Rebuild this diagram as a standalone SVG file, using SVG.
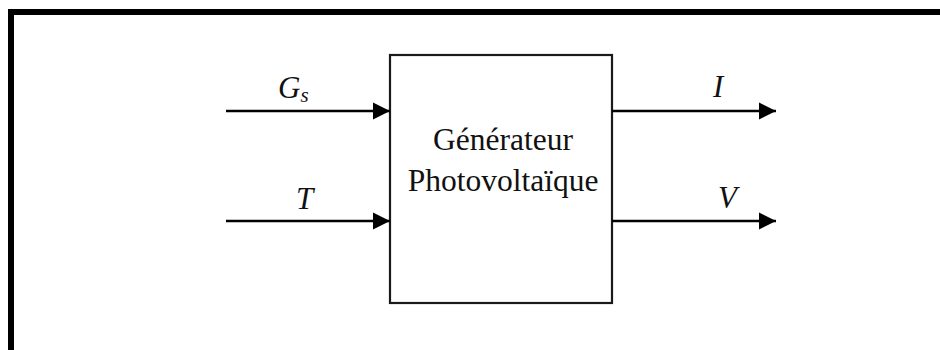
<svg xmlns="http://www.w3.org/2000/svg" width="940" height="350" viewBox="0 0 940 350">
<defs>
<style>
.frame{fill:none;stroke:#000;stroke-width:6}
.box{fill:#fff;stroke:#1a1a1a;stroke-width:2.2}
.line{fill:none;stroke:#000;stroke-width:2.5}
.txt{font-family:"Liberation Serif","Times New Roman",serif;font-size:31.5px;fill:#111;text-anchor:middle}
.lbl{font-family:"Liberation Serif","Times New Roman",serif;font-style:italic;font-size:31px;fill:#111}
</style>
<marker id="arr" markerUnits="userSpaceOnUse" markerWidth="18" markerHeight="18" refX="17" refY="9" orient="auto">
<polygon points="0,0.5 17,9 0,17.5" fill="#000"/>
</marker>
</defs>
<rect width="940" height="350" fill="#fff"/>
<rect class="frame" x="11" y="12" width="960" height="360"/>
<g id="generator">
<rect class="box" x="390" y="55" width="222" height="248"/>
<text class="txt" x="503" y="150">Générateur</text>
<text class="txt" x="503" y="191">Photovoltaïque</text>
</g>
<g id="connectors">
<line class="line" x1="226" y1="111" x2="390" y2="111" marker-end="url(#arr)"/>
<line class="line" x1="226" y1="221" x2="390" y2="221" marker-end="url(#arr)"/>
<line class="line" x1="612" y1="111" x2="776" y2="111" marker-end="url(#arr)"/>
<line class="line" x1="612" y1="221" x2="776" y2="221" marker-end="url(#arr)"/>
</g>
<g id="labels">
<text class="lbl" x="278" y="98">G<tspan font-size="21" dy="4">s</tspan></text>
<text class="lbl" x="296" y="209">T</text>
<text class="lbl" x="713" y="97">I</text>
<text class="lbl" x="718" y="208">V</text>
</g>
</svg>
